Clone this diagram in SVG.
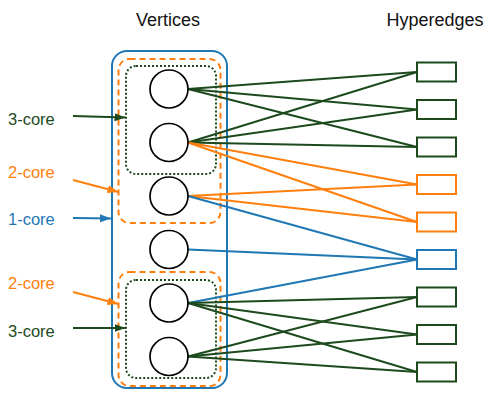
<svg xmlns="http://www.w3.org/2000/svg" width="488" height="393" viewBox="0 0 488 393">
<style>
text{font-family:"Liberation Sans",Arial,sans-serif}
.h{font-size:18px;fill:#111}
.l{font-size:16.5px}
.g{stroke:#1d4a1d}
.o{stroke:#ff7f0e}
.b{stroke:#1f77b4}
.v{fill:#fff;stroke:#000;stroke-width:1.7}
.e{fill:#fff;stroke-width:2}
.edges line{stroke-width:2}
.od{fill:none;stroke:#ff7f0e;stroke-width:2;stroke-dasharray:6 4}
.gd{fill:none;stroke:#1d4a1d;stroke-width:2;stroke-dasharray:2 2}
</style>
<defs>
<marker id="ag" markerUnits="userSpaceOnUse" markerWidth="12" markerHeight="10" refX="11" refY="4" orient="auto"><path d="M0,0 L11,4 L0,8 Z" fill="#1d4a1d"/></marker>
<marker id="ao" markerUnits="userSpaceOnUse" markerWidth="12" markerHeight="10" refX="11" refY="4" orient="auto"><path d="M0,0 L11,4 L0,8 Z" fill="#ff7f0e"/></marker>
<marker id="ab" markerUnits="userSpaceOnUse" markerWidth="12" markerHeight="10" refX="11" refY="4" orient="auto"><path d="M0,0 L11,4 L0,8 Z" fill="#1f77b4"/></marker>
</defs>
<text class="h" x="168" y="26" text-anchor="middle">Vertices</text>
<text class="h" x="435" y="26" text-anchor="middle">Hyperedges</text>
<g id="cores">
<rect x="112" y="51" width="115" height="337" rx="15" fill="none" stroke="#1f77b4" stroke-width="2"/>
<rect class="od" x="118.5" y="59" width="102" height="164" rx="11"/>
<rect class="gd" x="126" y="66" width="90" height="108" rx="10"/>
<rect class="od" x="118.5" y="272" width="102" height="114" rx="11"/>
<rect class="gd" x="126" y="280" width="90" height="98" rx="10"/>
</g>
<g id="labels">
<text class="l" x="8" y="125" fill="#1d4a1d">3-core</text>
<text class="l" x="8" y="177.5" fill="#ff7f0e">2-core</text>
<text class="l" x="8" y="225" fill="#1f77b4">1-core</text>
<text class="l" x="8" y="288.5" fill="#ff7f0e">2-core</text>
<text class="l" x="8" y="336.5" fill="#1d4a1d">3-core</text>
</g>
<g id="arrows" stroke-width="2">
<line class="g" x1="73" y1="116" x2="125.5" y2="117.5" marker-end="url(#ag)"/>
<line class="o" x1="73" y1="180" x2="118.5" y2="192" marker-end="url(#ao)"/>
<line class="b" x1="73" y1="218" x2="111" y2="218.5" marker-end="url(#ab)"/>
<line class="o" x1="73" y1="292" x2="118.5" y2="304" marker-end="url(#ao)"/>
<line class="g" x1="73" y1="328" x2="125.5" y2="328" marker-end="url(#ag)"/>
</g>
<g class="edges" id="connectors">
<line class="g" x1="188" y1="89" x2="417" y2="72"/>
<line class="g" x1="188" y1="89" x2="417" y2="109.5"/>
<line class="g" x1="188" y1="89" x2="417" y2="147"/>
<line class="g" x1="188" y1="142.5" x2="417" y2="72"/>
<line class="g" x1="188" y1="142.5" x2="417" y2="109.5"/>
<line class="g" x1="188" y1="142.5" x2="417" y2="147"/>
<line class="o" x1="188" y1="142.5" x2="417" y2="184.5"/>
<line class="o" x1="188" y1="142.5" x2="417" y2="222"/>
<line class="o" x1="188" y1="196" x2="417" y2="184.5"/>
<line class="o" x1="188" y1="196" x2="417" y2="222"/>
<line class="b" x1="188" y1="196" x2="417" y2="259.5"/>
<line class="b" x1="188" y1="249.5" x2="417" y2="259.5"/>
<line class="b" x1="188" y1="303" x2="417" y2="259.5"/>
<line class="g" x1="188" y1="303" x2="417" y2="297"/>
<line class="g" x1="188" y1="303" x2="417" y2="334.5"/>
<line class="g" x1="188" y1="303" x2="417" y2="372"/>
<line class="g" x1="188" y1="356.5" x2="417" y2="297"/>
<line class="g" x1="188" y1="356.5" x2="417" y2="334.5"/>
<line class="g" x1="188" y1="356.5" x2="417" y2="372"/>
</g>
<g id="v1"><circle class="v" cx="169" cy="89" r="19"/></g>
<g id="v2"><circle class="v" cx="169" cy="142.5" r="19"/></g>
<g id="v3"><circle class="v" cx="169" cy="196" r="19"/></g>
<g id="v4"><circle class="v" cx="169" cy="249.5" r="19"/></g>
<g id="v5"><circle class="v" cx="169" cy="303" r="19"/></g>
<g id="v6"><circle class="v" cx="169" cy="356.5" r="19"/></g>
<g id="e1"><rect class="e g" x="417" y="62.5" width="39" height="19"/></g>
<g id="e2"><rect class="e g" x="417" y="100" width="39" height="19"/></g>
<g id="e3"><rect class="e g" x="417" y="137.5" width="39" height="19"/></g>
<g id="e4"><rect class="e o" x="417" y="175" width="39" height="19"/></g>
<g id="e5"><rect class="e o" x="417" y="212.5" width="39" height="19"/></g>
<g id="e6"><rect class="e b" x="417" y="250" width="39" height="19"/></g>
<g id="e7"><rect class="e g" x="417" y="287.5" width="39" height="19"/></g>
<g id="e8"><rect class="e g" x="417" y="325" width="39" height="19"/></g>
<g id="e9"><rect class="e g" x="417" y="362.5" width="39" height="19"/></g>
</svg>
